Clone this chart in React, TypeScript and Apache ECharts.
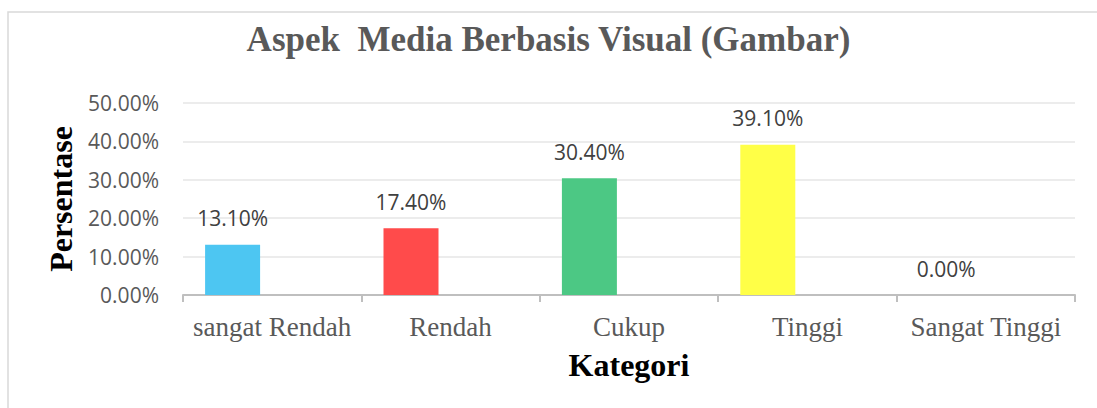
import React, { useEffect, useRef } from "react";
import * as echarts from "echarts";

const titleText = "Aspek  Media Berbasis Visual (Gambar)";
const categories = ["sangat Rendah", "Rendah", "Cukup", "Tinggi", "Sangat Tinggi"];
const values = [13.1, 17.4, 30.4, 39.1, 0.0];
const barColors = ["#4DC6F2", "#FF4B4B", "#4CC884", "#FFFF47", "#A5A5A5"];
const yTicks = { min: 0, max: 50, interval: 10 };
const yAxisTitle = "Persentase";
const xAxisTitle = "Kategori";

export default function App() {
  const ref = useRef<HTMLDivElement>(null);
  useEffect(() => {
    if (!ref.current) return;
    const chart = echarts.init(ref.current, null, { renderer: "svg" });
    chart.setOption({
      animation: false,
      backgroundColor: "#ffffff",
      title: {
        text: titleText,
        left: "center",
        top: 17,
        textStyle: {
          fontFamily: "Liberation Serif",
          fontWeight: "bold",
          fontSize: 35,
          color: "#595959",
        },
      },
      graphic: [
        {
          type: "rect",
          shape: { x: 8, y: 12, width: 1110, height: 420 },
          style: { fill: "none", stroke: "#d9d9d9", lineWidth: 1.5 },
          silent: true,
        },
      ],
      grid: { left: 183, right: 22, top: 103, bottom: 113 },
      xAxis: {
        type: "category",
        data: categories,
        boundaryGap: true,
        name: xAxisTitle,
        nameLocation: "middle",
        nameGap: 54,
        nameTextStyle: {
          fontFamily: "Liberation Serif",
          fontWeight: "bold",
          fontSize: 32,
          color: "#000000",
        },
        axisLine: { lineStyle: { color: "#bfbfbf", width: 2 } },
        axisTick: { show: true, length: 7, interval: 0, lineStyle: { color: "#bfbfbf", width: 2 } },
        axisLabel: {
          interval: 0,
          fontFamily: "Liberation Serif",
          fontSize: 27,
          color: "#595959",
          margin: 18,
        },
      },
      yAxis: {
        type: "value",
        min: yTicks.min,
        max: yTicks.max,
        interval: yTicks.interval,
        name: yAxisTitle,
        nameLocation: "middle",
        nameGap: 104,
        nameRotate: 90,
        nameTextStyle: {
          fontFamily: "Liberation Serif",
          fontWeight: "bold",
          fontSize: 32,
          color: "#000000",
        },
        axisLine: { show: false },
        axisTick: { show: false },
        splitLine: { lineStyle: { color: "#e6e6e6", width: 1.5 } },
        axisLabel: {
          fontFamily: "Open Sans",
          fontSize: 21,
          color: "#595959",
          margin: 24,
          formatter: (v: number) => v.toFixed(2) + "%",
        },
      },
      series: [
        {
          type: "bar",
          data: values.map((v, i) => ({ value: v, itemStyle: { color: barColors[i] } })),
          barWidth: 55,
          barGap: "44%",
          label: {
            show: true,
            position: "top",
            distance: 16,
            fontFamily: "Open Sans",
            fontSize: 21,
            color: "#404040",
            formatter: (p: any) => Number(p.value).toFixed(2) + "%",
          },
        },
        {
          type: "bar",
          data: values.map(() => null),
          barWidth: 55,
        },
      ],
    });
    return () => chart.dispose();
  }, []);
  return (
    <div
      ref={ref}
      style={{ position: "absolute", left: 0, top: 0, width: 1097, height: 408 }}
    />
  );
}
